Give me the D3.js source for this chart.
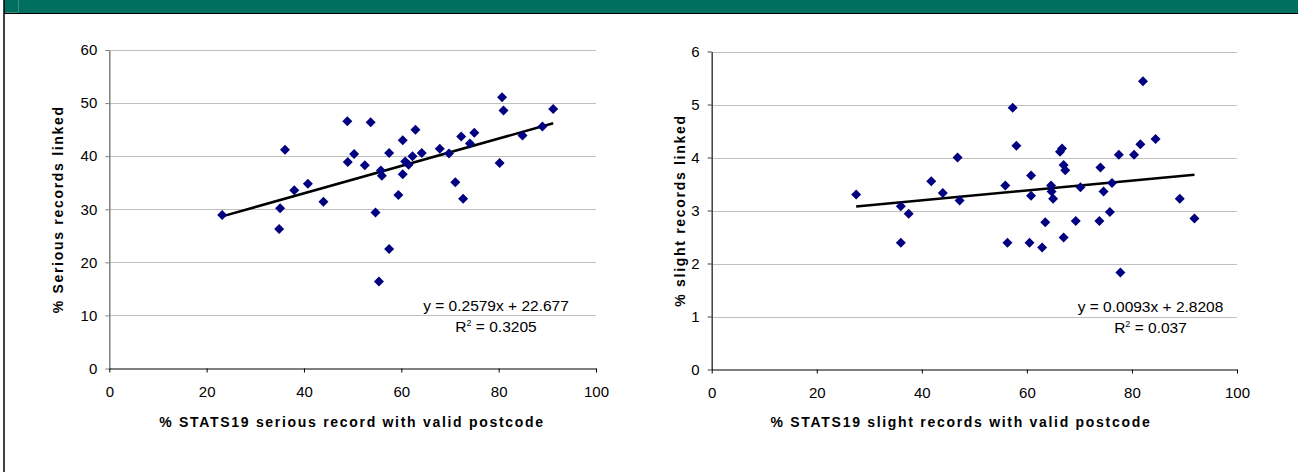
<!DOCTYPE html>
<html>
<head>
<script src="https://d3js.org/d3.v7.min.js"></script>
<title>STATS19 linkage</title>
<style>
body {margin:0; background:white;}
text {font-family: "Liberation Sans", Arial, sans-serif;}
.title {font-weight:bold; font-size:14px; letter-spacing:1.7px;}
</style>
</head>
<body>
<div id="myDiv"></div>
<script>
// Serious chart data (x = % with valid postcode, y = % linked)
let seriousX = [23.2,34.9,35.1,36.1,38.0,40.8,44.0,48.9,49.0,50.3,52.5,53.7,54.7,55.4,55.8,56.0,57.5,57.5,59.4,60.3,
                60.3,60.8,61.5,62.3,62.9,64.2,67.9,69.8,71.1,72.3,72.7,74.1,75.0,80.2,80.7,81.0,84.9,89.0,91.2];
let seriousY = [28.9,26.3,30.2,41.2,33.6,34.8,31.4,46.6,38.9,40.4,38.3,46.4,29.4,16.4,37.3,36.3,22.5,40.6,32.7,43.0,
                36.6,39.0,38.4,40.0,45.0,40.6,41.4,40.5,35.1,43.7,32.0,42.4,44.4,38.7,51.1,48.6,43.9,45.6,48.9];

// Slight chart data
let slightX = [27.5,36.0,37.5,36.0,41.8,44.0,46.8,47.2,55.9,56.3,57.3,58.0,60.5,60.8,60.8,62.9,63.5,64.6,64.7,65.0,
               66.3,66.7,67.0,67.3,67.0,69.3,70.2,73.8,74.0,74.6,75.8,76.2,77.5,77.8,80.4,81.6,82.1,84.5,89.1,91.9];
let slightY = [3.30,3.08,2.94,2.39,3.55,3.33,4.00,3.19,3.47,2.39,4.94,4.22,2.39,3.66,3.28,2.30,2.78,3.47,3.36,3.22,
               4.11,4.17,3.86,3.76,2.49,2.80,3.44,2.80,3.81,3.36,2.97,3.52,4.05,1.83,4.05,4.25,5.44,4.35,3.22,2.85];

// Trendline coefficients [slope, intercept, R2] as printed on the chart
let seriousTrend = [0.2579, 22.677, "0.3205"];
let slightTrend = [0.0093, 2.8208, "0.037"];

let xTicks = [0,20,40,60,80,100];
let seriousTicks = [0,10,20,30,40,50,60];
let slightTicks = [0,1,2,3,4,5,6];

var svg = d3.select("#myDiv").append("svg")
    .attr("width",1298)
    .attr("height",472);

// header bar and left frame line
svg.append("rect").attr("x",4).attr("y",0).attr("width",1294).attr("height",13).attr("fill","#006f5f");
svg.append("line").attr("x1",18.5).attr("x2",18.5).attr("y1",0).attr("y2",12).attr("stroke","#3d9184");
svg.append("line").attr("x1",4).attr("x2",18).attr("y1",12.5).attr("y2",12.5).attr("stroke","#3d9184");
svg.append("line").attr("x1",4).attr("x2",1298).attr("y1",13.5).attr("y2",13.5).attr("stroke","black");
svg.append("line").attr("x1",4).attr("x2",4).attr("y1",0).attr("y2",472).attr("stroke","black").attr("stroke-width",1.5);

function drawChart(opt) {
    let xScale = d3.scaleLinear().domain([0,100]).range([opt.left,opt.right]);
    let yScale = d3.scaleLinear().domain([0,d3.max(opt.yTicks)]).range([opt.bottom,opt.top]);
    let g = svg.append("g");

    // gridlines
    g.selectAll(".grid").data(opt.yTicks.slice(1)).enter()
        .append("line")
        .attr("x1",opt.left).attr("x2",opt.right)
        .attr("y1",function(d){return Math.round(yScale(d))+0.5;})
        .attr("y2",function(d){return Math.round(yScale(d))+0.5;})
        .attr("stroke","#c0c0c0");

    // y axis
    let yaxis = d3.axisLeft(yScale).tickValues(opt.yTicks).tickFormat(d3.format("d"))
        .tickSize(4).tickSizeOuter(0).tickPadding(8);
    let ya = g.append("g").attr("transform","translate("+opt.left+",0)").call(yaxis);
    ya.select(".domain").attr("stroke",opt.yAxisColor).attr("stroke-width",1.5);
    ya.selectAll("line").attr("stroke",opt.yAxisColor);
    ya.selectAll("text").attr("font-size","15px").attr("fill","black")
        .attr("font-family","Liberation Sans, Arial, sans-serif");

    // x axis
    let xaxis = d3.axisBottom(xScale).tickValues(xTicks).tickSize(4).tickSizeOuter(0).tickPadding(14);
    let xa = g.append("g").attr("transform","translate(0,"+opt.bottom+")").call(xaxis);
    xa.select(".domain").attr("stroke","black");
    xa.selectAll("line").attr("stroke","black");
    xa.selectAll("text").attr("font-size","15px").attr("fill","black")
        .attr("font-family","Liberation Sans, Arial, sans-serif");

    // trendline across the data range
    let xMin = d3.min(opt.xs), xMax = d3.max(opt.xs);
    g.append("line")
        .attr("x1",xScale(xMin)).attr("y1",yScale(opt.trend[0]*xMin+opt.trend[1]))
        .attr("x2",xScale(xMax)).attr("y2",yScale(opt.trend[0]*xMax+opt.trend[1]))
        .attr("stroke","black").attr("stroke-width",2.5);

    // diamond markers
    g.selectAll(".pt").data(opt.xs).enter()
        .append("path")
        .attr("d","M0,-5L5,0L0,5L-5,0Z")
        .attr("transform",function(d,i){return "translate("+xScale(d)+","+yScale(opt.ys[i])+")";})
        .attr("fill","#000080");

    // equation labels
    g.append("text").attr("x",opt.eqX).attr("y",opt.eqY).attr("text-anchor","middle")
        .attr("font-size","15.5px").text(opt.eq);
    let r = g.append("text").attr("x",opt.eqX).attr("y",opt.eqY+21.5).attr("text-anchor","middle")
        .attr("font-size","15.5px");
    r.append("tspan").text("R");
    r.append("tspan").attr("font-size","9px").attr("dy",-6).text("2");
    r.append("tspan").attr("dy",6).text(" = "+opt.trend[2]);

    // axis titles
    g.append("text").attr("class","title").attr("text-anchor","middle")
        .attr("x",opt.xTitleX).attr("y",426.5).text(opt.xTitle);
    g.append("text").attr("class","title").attr("text-anchor","middle")
        .attr("transform","translate("+opt.yTitleX+","+(opt.top+opt.bottom)/2+") rotate(-90)")
        .text(opt.yTitle);
}

drawChart({
    xs: seriousX, ys: seriousY, trend: seriousTrend, yTicks: seriousTicks,
    left: 109.3, right: 596, top: 50, bottom: 368.5, yAxisColor: "#808080",
    eq: "y = 0.2579x + 22.677", eqX: 496, eqY: 310.5,
    xTitle: "% STATS19 serious record with valid postcode", xTitleX: 352,
    yTitle: "% Serious records linked", yTitleX: 63
});

drawChart({
    xs: slightX, ys: slightY, trend: slightTrend, yTicks: slightTicks,
    left: 711.7, right: 1237, top: 51.5, bottom: 369.5, yAxisColor: "#404040",
    eq: "y = 0.0093x + 2.8208", eqX: 1150.5, eqY: 311.5,
    xTitle: "% STATS19 slight records with valid postcode", xTitleX: 961,
    yTitle: "% slight records linked", yTitleX: 685
});
</script>
</body>
</html>
